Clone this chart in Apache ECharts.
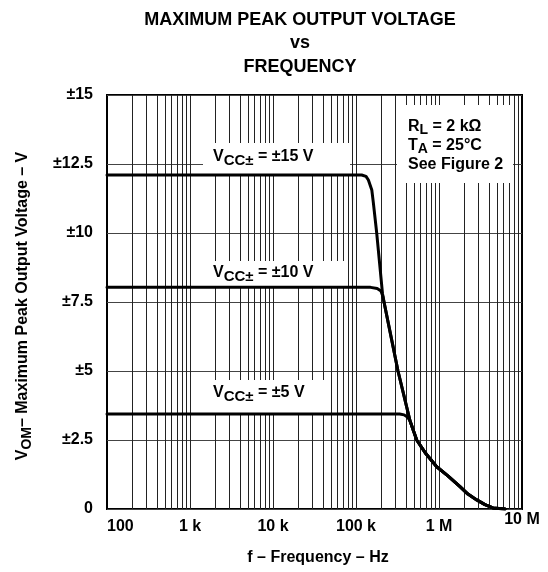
<!DOCTYPE html>
<html>
<head>
<meta charset="utf-8">
<script src="https://cdn.jsdelivr.net/npm/echarts@6/dist/echarts.min.js"></script>
<style>
  html, body { margin: 0; padding: 0; background: #fff; }
  #chart { width: 548px; height: 572px; }
</style>
</head>
<body>
<div id="chart"></div>
<script>
// Frequency-axis decades and their labels
const xTickValues = [100, 1e3, 1e4, 1e5, 1e6, 1e7];
const xTickLabels = ['100', '1 k', '10 k', '100 k', '1 M', '10 M'];

// Voltage-axis ticks and their labels
const yTickValues = [0, 2.5, 5, 7.5, 10, 12.5, 15];
const yTickLabels = ['0', '±2.5', '±5', '±7.5', '±10', '±12.5', '±15'];

// Shared slew-rate-limited roll-off (Hz, V)
const tailFreq = [217.5e3, 320.6e3, 447e3, 538.6e3, 697e3, 938e3, 1.28e6, 1.79e6, 2.23e6, 2.85e6, 3.58e6, 4.47e6, 6.24e6];
const tailVolt = [7.5, 5.0, 3.2, 2.5, 2.0, 1.53, 1.2, 0.81, 0.54, 0.33, 0.16, 0.04, 0];

// VCC± = ±15 V
const freq15 = [100, 117e3, 132e3, 141e3, 155e3, 162e3, 177.6e3, 208.6e3];
const volt15 = [12.1, 12.1, 12.05, 11.92, 11.56, 11.08, 10.0, 7.8];

// VCC± = ±10 V
const freq10 = [100, 150e3, 180e3, 200e3, 211e3];
const volt10 = [8.03, 8.03, 7.99, 7.9, 7.7];

// VCC± = ±5 V
const freq5 = [100, 335e3, 380e3, 420e3];
const volt5 = [3.44, 3.44, 3.41, 3.32];

const FONT = '"Liberation Sans", Arial, sans-serif';

function curve(freq, volt, fromTail) {
  const pts = freq.map((f, i) => [f, volt[i]]);
  tailFreq.forEach((f, i) => {
    if (f > freq[freq.length - 1]) pts.push([f, tailVolt[i]]);
  });
  return pts;
}

// Vertical log grid: every 1..9 multiple inside each decade
const gridFreqs = [];
for (let d = 0; d < xTickValues.length - 1; d++) {
  for (let m = 1; m <= 9; m++) {
    if (d === 0 && m === 1) continue;
    gridFreqs.push(xTickValues[d] * m);
  }
}

const chart = echarts.init(document.getElementById('chart'), null, { renderer: 'canvas' });

function labelFor(values, labels, v) {
  for (let i = 0; i < values.length; i++) {
    if (Math.abs(values[i] - v) <= values[i] * 1e-6 + 1e-9) return labels[i];
  }
  return '';
}

const lineSeries = (name, data) => ({
  name, type: 'line', data, showSymbol: false, symbol: 'none',
  lineStyle: { color: '#000', width: 3, join: 'round', cap: 'round' },
  z: 5, animation: false, silent: true
});

const vccRich = {
  v: { fontSize: 16, fontWeight: 'bold', fontFamily: FONT, fill: '#000' },
  s: { fontSize: 15, fontWeight: 'bold', fontFamily: FONT, fill: '#000', padding: [8, 0, 0, 0] },
  n: { fontSize: 16, fontWeight: 'bold', fontFamily: FONT, fill: '#000' }
};

chart.setOption({
  animation: false,
  backgroundColor: '#fff',
  grid: {
    left: 107, right: 26, top: 95, bottom: 63,
    show: true, borderColor: '#000', borderWidth: 2, backgroundColor: 'transparent'
  },
  xAxis: {
    type: 'log', logBase: 10, min: 100, max: 1e7,
    axisLine: { show: false }, axisTick: { show: false },
    splitLine: { show: false },
    axisLabel: {
      margin: 10, color: '#000', fontSize: 16, fontWeight: 'bold', fontFamily: FONT,
      alignMinLabel: 'left',
      formatter: v => {
        const t = labelFor(xTickValues, xTickLabels, v);
        return v >= 9.99e6 ? '{hi|' + t + '}' : t;
      },
      rich: { hi: { fontSize: 16, fontWeight: 'bold', fontFamily: FONT, color: '#000', lineHeight: 2 } }
    }
  },
  yAxis: {
    type: 'value', min: 0, max: 15, interval: 2.5,
    axisLine: { show: false }, axisTick: { show: false },
    splitLine: { show: true, lineStyle: { color: '#444', width: 1 } },
    axisLabel: {
      margin: 14, color: '#000', fontSize: 16, fontWeight: 'bold', fontFamily: FONT,
      formatter: v => labelFor(yTickValues, yTickLabels, v)
    }
  },
  series: [
    {
      name: 'grid', type: 'line', data: [], z: 1, silent: true, animation: false,
      markLine: {
        z: 1, silent: true, animation: false, symbol: ['none', 'none'],
        label: { show: false },
        lineStyle: { color: '#222', width: 1, type: 'solid' },
        data: gridFreqs.map(f => ({ xAxis: f }))
      }
    },
    lineSeries('±15 V', curve(freq15, volt15)),
    lineSeries('±10 V', curve(freq10, volt10)),
    lineSeries('±5 V', curve(freq5, volt5))
  ]
});

// Annotation boxes (white backing that interrupts the grid) and texts
const boxes = [
  { x: 203, y: 143, w: 147, h: 32 },
  { x: 205, y: 261, w: 140, h: 27 },
  { x: 205, y: 380, w: 120, h: 34 },
  { x: 397, y: 105, w: 116, h: 78 }
];
const graphics = boxes.map(b => ({
  type: 'rect', silent: true, z: 3,
  shape: { x: b.x, y: b.y, width: b.w, height: b.h },
  style: { fill: '#fff' }
}));

const vccLabels = [
  { text: '{v|V}{s|CC±}{n| = ±15 V}', x: 213, y: 157 },
  { text: '{v|V}{s|CC±}{n| = ±10 V}', x: 213, y: 273 },
  { text: '{v|V}{s|CC±}{n| = ±5 V}', x: 213, y: 393 }
];
vccLabels.forEach(l => graphics.push({
  type: 'text', silent: true, z: 4, x: l.x, y: l.y,
  style: { text: l.text, rich: vccRich, align: 'left', verticalAlign: 'middle' }
}));

const condRich = {
  m: { fontSize: 16, fontWeight: 'bold', fontFamily: FONT, fill: '#000', lineHeight: 19 },
  s: { fontSize: 14, fontWeight: 'bold', fontFamily: FONT, fill: '#000', padding: [8, 0, 0, 0], lineHeight: 19 }
};
graphics.push({
  type: 'text', silent: true, z: 4, x: 408, y: 117,
  style: {
    text: '{m|R}{s|L}{m| = 2 kΩ}\n{m|T}{s|A}{m| = 25°C}\n{m|See Figure 2}',
    rich: condRich, align: 'left', verticalAlign: 'top'
  }
});

// Title
graphics.push({
  type: 'text', silent: true, z: 4, x: 300, y: 8,
  style: {
    text: 'MAXIMUM PEAK OUTPUT VOLTAGE\nvs\nFREQUENCY',
    font: 'bold 18px ' + FONT, fill: '#000', align: 'center', verticalAlign: 'top', lineHeight: 23.5
  }
});

// Axis titles
graphics.push({
  type: 'text', silent: true, z: 4, x: 318, y: 558,
  style: { text: 'f – Frequency – Hz', font: 'bold 16px ' + FONT, fill: '#000', align: 'center', verticalAlign: 'middle' }
});
graphics.push({
  type: 'text', silent: true, z: 4, x: 23, y: 306, rotation: Math.PI / 2,
  style: {
    text: '{v|V}{s|OM}{n|– Maximum Peak Output Voltage – V}',
    rich: {
      v: { fontSize: 16, fontWeight: 'bold', fontFamily: FONT, fill: '#000' },
      s: { fontSize: 14, fontWeight: 'bold', fontFamily: FONT, fill: '#000', padding: [8, 0, 0, 0] },
      n: { fontSize: 16, fontWeight: 'bold', fontFamily: FONT, fill: '#000' }
    },
    align: 'center', verticalAlign: 'middle'
  }
});

chart.setOption({ graphic: { elements: graphics } });
</script>
</body>
</html>
